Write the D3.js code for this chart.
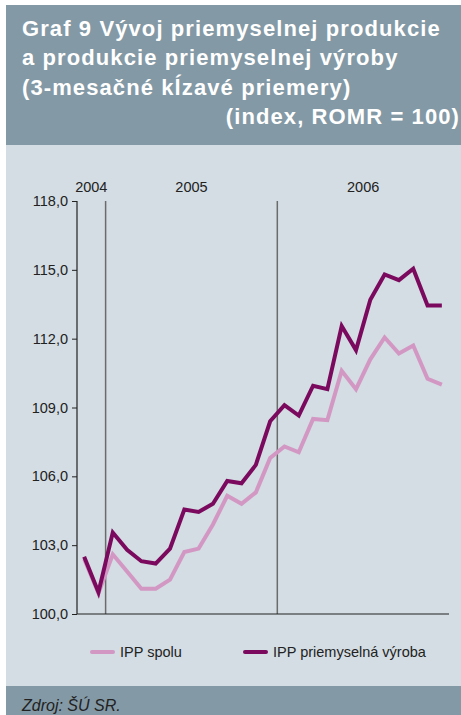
<!DOCTYPE html>
<html>
<head>
<meta charset="utf-8">
<script src="https://cdnjs.cloudflare.com/ajax/libs/d3/7.8.5/d3.min.js"></script>
<style>
  html, body { margin: 0; padding: 0; background: #fff; }
  svg { display: block; }
</style>
</head>
<body>
<div id="chart"></div>
<script>
// months Nov 2004 .. Dec 2006
var months = d3.range(26);
var years = [
  {label: "2004", from: 0, to: 2},
  {label: "2005", from: 2, to: 14},
  {label: "2006", from: 14, to: 26}
];
var ippSpolu = [102.4, 100.9, 102.6, 101.85, 101.1, 101.1, 101.5, 102.7, 102.85, 103.9, 105.15, 104.8, 105.3,
  106.8, 107.3, 107.05, 108.5, 108.45, 110.6, 109.8, 111.1, 112.05, 111.35, 111.7, 110.25, 110.0];
var ippVyroba = [102.5, 100.95, 103.55, 102.8, 102.3, 102.2, 102.85, 104.55, 104.45, 104.8, 105.8, 105.7, 106.5,
  108.4, 109.1, 108.65, 109.95, 109.8, 112.55, 111.5, 113.7, 114.8, 114.55, 115.05, 113.45, 113.45];
var yTicks = [100, 103, 106, 109, 112, 115, 118];
var titleLines = ["Graf 9 Vývoj priemyselnej produkcie", "a produkcie priemyselnej výroby", "(3-mesačné kĺzavé priemery)"];
var titleRight = "(index, ROMR = 100)";
var seriesNames = ["IPP spolu", "IPP priemyselná výroba"];
var colors = ["#d397c4", "#7b0a5f"];

var W = 461, H = 715;
var font = "Liberation Sans, Arial, sans-serif";
var svg = d3.select("#chart").append("svg").attr("width", W).attr("height", H);

// panels
svg.append("rect").attr("x", 6).attr("y", 5).attr("width", W - 6).attr("height", 140).attr("fill", "#8399a6");
svg.append("rect").attr("x", 6).attr("y", 145).attr("width", W - 6).attr("height", 541).attr("fill", "#d3dde3");
svg.append("rect").attr("x", 6).attr("y", 686).attr("width", W - 6).attr("height", 29).attr("fill", "#8399a6");

// title
svg.selectAll("text.title").data(titleLines).enter().append("text")
  .attr("class", "title")
  .attr("x", 22).attr("y", function (d, i) { return 36 + i * 29.3; })
  .attr("font-family", font).attr("font-size", 22).attr("font-weight", "bold")
  .attr("letter-spacing", 1.1).attr("fill", "#fff")
  .text(function (d) { return d; });
svg.append("text").attr("x", 460).attr("y", 124).attr("text-anchor", "end")
  .attr("font-family", font).attr("font-size", 22).attr("font-weight", "bold")
  .attr("letter-spacing", 1.1).attr("fill", "#fff")
  .text(titleRight);

// scales
var x = d3.scaleBand().domain(months).range([77, 449]);
var y = d3.scaleLinear().domain([100, 118]).range([614, 201]);
var cx = function (i) { return x(i) + x.bandwidth() / 2; };

// year separators
var edges = [years[1].from, years[2].from];
svg.selectAll("line.sep").data(edges).enter().append("line")
  .attr("x1", function (d) { return x(d); }).attr("x2", function (d) { return x(d); })
  .attr("y1", y(118)).attr("y2", y(100))
  .attr("stroke", "#6b6b6b").attr("stroke-width", 1.5);

// year labels
svg.selectAll("text.year").data(years).enter().append("text")
  .attr("x", function (d) { return (x(d.from) + (d.to < 26 ? x(d.to) : 449)) / 2; })
  .attr("y", 192).attr("text-anchor", "middle")
  .attr("font-family", font).attr("font-size", 14.5).attr("fill", "#222")
  .text(function (d) { return d.label; });

// y axis
var yAxis = d3.axisLeft(y).tickValues(yTicks).tickSize(5).tickPadding(4)
  .tickFormat(function (d) { return d3.format(".1f")(d).replace(".", ","); });
var gy = svg.append("g").attr("transform", "translate(77,0)").call(yAxis);
gy.select(".domain").attr("stroke", "#222").attr("stroke-width", 1.2).attr("d", "M0," + y(118) + "V" + y(100));
gy.selectAll(".tick line").attr("stroke", "#222");
gy.selectAll(".tick text").attr("font-family", font).attr("font-size", 14.5).attr("fill", "#222");

// x axis baseline
svg.append("line").attr("x1", 77).attr("x2", 449).attr("y1", y(100)).attr("y2", y(100))
  .attr("stroke", "#222").attr("stroke-width", 1.2);

// lines
var line = d3.line().x(function (d, i) { return cx(i); }).y(function (d) { return y(d); });
[ippSpolu, ippVyroba].forEach(function (s, k) {
  svg.append("path").datum(s).attr("d", line).attr("fill", "none")
    .attr("stroke", colors[k]).attr("stroke-width", 4).attr("stroke-linejoin", "miter");
});

// legend
var legX = [92, 245];
seriesNames.forEach(function (n, k) {
  svg.append("line").attr("x1", legX[k]).attr("x2", legX[k] + 21).attr("y1", 652).attr("y2", 652)
    .attr("stroke", colors[k]).attr("stroke-width", 4).attr("stroke-linecap", "round");
  svg.append("text").attr("x", legX[k] + 28).attr("y", 657)
    .attr("font-family", font).attr("font-size", 14.5).attr("fill", "#222")
    .text(n);
});

// source
svg.append("text").attr("x", 22).attr("y", 711)
  .attr("font-family", font).attr("font-size", 16)
  .attr("font-style", "italic").attr("fill", "#222")
  .text("Zdroj: ŠÚ SR.");
</script>
</body>
</html>
